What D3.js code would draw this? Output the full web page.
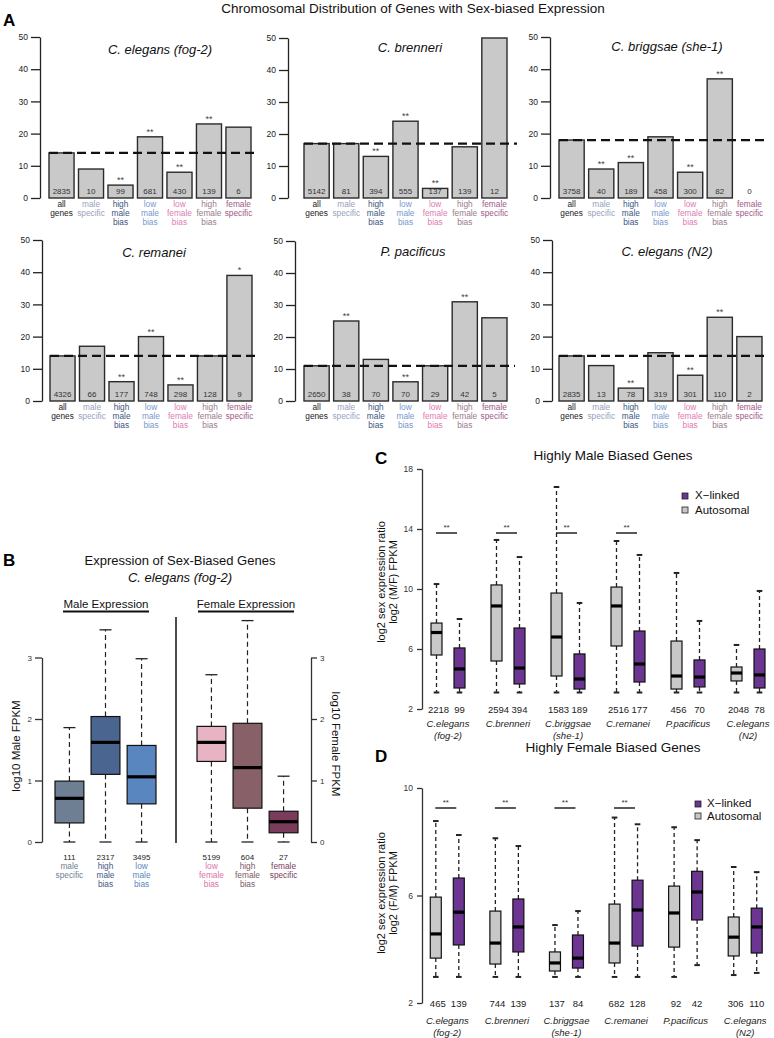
<!DOCTYPE html>
<html><head><meta charset="utf-8">
<script src="https://cdn.jsdelivr.net/npm/d3@7"></script>
<style>
body{margin:0;background:#fff;}
svg{display:block;font-family:"Liberation Sans",Arial,Helvetica,sans-serif;}
</style>
</head><body>
<svg id="chart" width="774" height="1038"></svg>
<script>
// ---------------- DATA ----------------
// Panel A
const categories = ["all genes","male specific","high male bias","low male bias","low female bias","high female bias","female specific"];
const categoryLines = [["all","genes"],["male","specific"],["high","male","bias"],["low","male","bias"],["low","female","bias"],["high","female","bias"],["female","specific"]];
const categoryColors = ["#222222","#98a2bd","#3d5582","#7898cf","#e27ab4","#9a7b8b","#a0588a"];
const speciesA = ["C. elegans (fog-2)","C. brenneri","C. briggsae (she-1)","C. remanei","P. pacificus","C. elegans (N2)"];
const pctXlinked = [
  [14, 9, 4, 19, 8, 23, 22],
  [17, 17, 13, 24, 3, 16, 50],
  [18, 9, 11, 19, 8, 37, 0],
  [14, 17, 6, 20, 5, 14, 39],
  [11, 25, 13, 6, 11, 31, 26],
  [14, 11, 4, 15, 8, 26, 20]
];
const countsA = [
  [2835, 10, 99, 681, 430, 139, 6],
  [5142, 81, 394, 555, 137, 139, 12],
  [3758, 40, 189, 458, 300, 82, 0],
  [4326, 66, 177, 748, 298, 128, 9],
  [2650, 38, 70, 70, 29, 42, 5],
  [2835, 13, 78, 319, 301, 110, 2]
];
const sigA = [
  ["", "", "**", "**", "**", "**", ""],
  ["", "", "**", "**", "**", "", ""],
  ["", "**", "**", "", "**", "**", ""],
  ["", "", "**", "**", "**", "", "*"],
  ["", "**", "", "**", "", "**", ""],
  ["", "", "**", "", "**", "**", ""]
];
const yTicksA = [0, 10, 20, 30, 40, 50];

// Panel B
const bCategories = ["male specific","high male bias","low male bias","low female bias","high female bias","female specific"];
const bLines = [["male","specific"],["high","male","bias"],["low","male","bias"],["low","female","bias"],["high","female","bias"],["female","specific"]];
const bCounts = [111, 2317, 3495, 5199, 604, 27];
const bMin = [0, 0, 0, 0, 0, 0];
const bQ1  = [0.31, 1.10, 0.62, 1.31, 0.55, 0.15];
const bMed = [0.71, 1.62, 1.06, 1.62, 1.21, 0.33];
const bQ3  = [0.99, 2.04, 1.57, 1.88, 1.93, 0.50];
const bMax = [1.86, 3.45, 2.98, 2.72, 3.60, 1.07];
const bFill = ["#6f7f93", "#4a6690", "#5a86c0", "#e8b4c4", "#876068", "#7b3c5c"];
const bLabelColor = ["#6f7f93", "#3f5a88", "#5a86c0", "#e070a8", "#7b5a62", "#7b3c5c"];
const yTicksB = [0, 1, 2, 3];

// Panels C & D
const speciesCD = ["C.elegans (fog-2)","C.brenneri","C.briggsae (she-1)","C.remanei","P.pacificus","C.elegans (N2)"];
const speciesLines = [["C.elegans","(fog-2)"],["C.brenneri"],["C.briggsae","(she-1)"],["C.remanei"],["P.pacificus"],["C.elegans","(N2)"]];
const groupsCD = ["Autosomal","X-linked"];

const cAutoCount = [2218, 2594, 1583, 2516, 456, 2048];
const cXCount    = [99, 394, 189, 177, 70, 78];
const cAutoMin = [3.1, 3.1, 3.1, 3.1, 3.1, 3.1];
const cAutoQ1  = [5.6, 5.2, 4.2, 6.2, 3.33, 3.87];
const cAutoMed = [7.1, 8.87, 6.8, 8.87, 4.2, 4.4];
const cAutoQ3  = [7.73, 10.27, 9.73, 10.13, 6.53, 4.8];
const cAutoMax = [10.33, 13.27, 16.8, 13.2, 11.07, 6.27];
const cXMin = [3.1, 3.1, 3.1, 3.1, 3.1, 3.1];
const cXQ1  = [3.4, 3.67, 3.33, 3.8, 3.47, 3.4];
const cXMed = [4.67, 4.73, 4.0, 5.0, 4.13, 4.27];
const cXQ3  = [6.07, 7.4, 5.67, 7.2, 5.27, 6.0];
const cXMax = [8.0, 12.13, 9.07, 12.27, 7.87, 9.87];
const cSig = ["**", "**", "**", "**", "", ""];
const yTicksC = [2, 6, 10, 14, 18];

const dAutoCount = [465, 744, 137, 682, 92, 306];
const dXCount    = [139, 139, 84, 128, 42, 110];
const dAutoMin = [2.97, 2.97, 2.97, 2.97, 2.97, 3.04];
const dAutoQ1  = [3.67, 3.45, 3.19, 3.49, 4.08, 3.75];
const dAutoMed = [4.57, 4.23, 3.49, 4.23, 5.35, 4.45];
const dAutoQ3  = [5.94, 5.42, 3.9, 5.68, 6.35, 5.2];
const dAutoMax = [8.77, 8.13, 4.9, 8.9, 8.54, 7.06];
const dXMin = [2.97, 2.97, 2.97, 2.97, 3.41, 3.12];
const dXQ1  = [4.16, 3.9, 3.3, 4.12, 5.09, 3.86];
const dXMed = [5.38, 4.83, 3.67, 5.46, 6.13, 4.83];
const dXQ3  = [6.65, 5.87, 4.53, 6.57, 6.9, 5.53];
const dXMax = [8.25, 7.84, 5.42, 8.65, 8.06, 6.87];
const dSig = ["**", "**", "**", "**", "", ""];
const yTicksD = [2, 6, 10];

const autoColor = "#c8c8c8";
const xColor = "#6b3591";

// ---------------- DRAW ----------------
const svg = d3.select("#chart");

function txt(g, x, y, s, size, opts = {}) {
  const t = g.append("text").attr("x", x).attr("y", y).attr("font-size", size).text(s);
  if (opts.anchor) t.attr("text-anchor", opts.anchor);
  if (opts.fill) t.attr("fill", opts.fill);
  if (opts.italic) t.attr("font-style", "italic");
  if (opts.bold) t.attr("font-weight", "bold");
  return t;
}

txt(svg, 413, 13, "Chromosomal Distribution of Genes with Sex-biased Expression", 13.5, {anchor: "middle", fill: "#111"});
txt(svg, 3, 26, "A", 17, {bold: true});
txt(svg, 3, 566, "B", 17, {bold: true});
txt(svg, 375, 464, "C", 17, {bold: true});
txt(svg, 375, 762, "D", 17, {bold: true});

// ---- Panel A ----
const layoutA = [
  {ax: 40,  x0: 49,  x1: 251, dashEnd: 258, yTop: 37,  y0: 198, tx: 160, ty: 54},
  {ax: 288, x0: 304, x1: 507, dashEnd: 517, yTop: 38,  y0: 198, tx: 410, ty: 52},
  {ax: 550, x0: 559, x1: 762, dashEnd: 768, yTop: 37,  y0: 198, tx: 667, ty: 51},
  {ax: 42,  x0: 50,  x1: 252, dashEnd: 258, yTop: 240, y0: 401, tx: 154, ty: 257},
  {ax: 295, x0: 304, x1: 507, dashEnd: 515, yTop: 241, y0: 401, tx: 413, ty: 256},
  {ax: 552, x0: 559, x1: 762, dashEnd: 768, yTop: 240, y0: 401, tx: 667, ty: 256}
];

speciesA.forEach((sp, p) => {
  const L = layoutA[p];
  const g = svg.append("g");
  const vals = pctXlinked[p];
  const x = d3.scaleBand().domain(categories).range([L.x0, L.x1]).paddingInner(0.15).paddingOuter(0);
  const y = d3.scaleLinear().domain([0, 50]).range([L.y0, L.yTop]);

  const ax = g.append("g").attr("transform", `translate(${L.ax},0)`)
    .call(d3.axisLeft(y).tickValues(yTicksA).tickSize(9).tickSizeOuter(0).tickPadding(3));
  ax.selectAll("path,line").attr("stroke", "#222").attr("stroke-width", 1.3);
  ax.selectAll("text").attr("font-size", 8.5).attr("fill", "#222").attr("font-family", "Liberation Sans, Arial, sans-serif");

  g.selectAll("rect.bar").data(vals).join("rect").attr("class", "bar")
    .attr("x", (d, i) => x(categories[i]))
    .attr("y", d => y(d))
    .attr("width", x.bandwidth())
    .attr("height", d => y(0) - y(d))
    .attr("fill", "#c9c9c9").attr("stroke", "#2b2b2b").attr("stroke-width", 1.4);

  // dashed reference line at "all genes"
  g.append("line").attr("x1", L.x0).attr("x2", L.dashEnd)
    .attr("y1", y(vals[0])).attr("y2", y(vals[0]))
    .attr("stroke", "#111").attr("stroke-width", 2.2).attr("stroke-dasharray", "9,5");

  g.selectAll("text.cnt").data(countsA[p]).join("text").attr("class", "cnt")
    .attr("x", (d, i) => x(categories[i]) + x.bandwidth() / 2)
    .attr("y", L.y0 - 4).attr("text-anchor", "middle").attr("font-size", 8).attr("fill", "#333")
    .text(d => d);

  g.selectAll("text.sig").data(sigA[p]).join("text").attr("class", "sig")
    .attr("x", (d, i) => x(categories[i]) + x.bandwidth() / 2)
    .attr("y", (d, i) => y(vals[i]) - 2).attr("text-anchor", "middle").attr("font-size", 9).attr("fill", "#444")
    .text(d => d);

  categories.forEach((c, i) => {
    categoryLines[i].forEach((ln, k) => {
      txt(g, x(c) + x.bandwidth() / 2, L.y0 + 9 + k * 9, ln, 8.3, {anchor: "middle", fill: categoryColors[i]});
    });
  });

  txt(g, L.tx, L.ty, sp, 13, {anchor: "middle", italic: true, fill: "#111"});
});

// ---- Panel B ----
{
  const g = svg.append("g");
  txt(g, 180, 565, "Expression of Sex-Biased Genes", 13, {anchor: "middle", fill: "#111"});
  txt(g, 180, 582, "C. elegans (fog-2)", 13, {anchor: "middle", italic: true, fill: "#111"});
  txt(g, 106, 608, "Male Expression", 11.5, {anchor: "middle", fill: "#111"});
  g.append("line").attr("x1", 63).attr("x2", 149).attr("y1", 611.5).attr("y2", 611.5).attr("stroke", "#111").attr("stroke-width", 2);
  txt(g, 246, 608, "Female Expression", 11.5, {anchor: "middle", fill: "#111"});
  g.append("line").attr("x1", 198).attr("x2", 294).attr("y1", 611.5).attr("y2", 611.5).attr("stroke", "#111").attr("stroke-width", 2);
  g.append("line").attr("x1", 176).attr("x2", 176).attr("y1", 617).attr("y2", 843).attr("stroke", "#111").attr("stroke-width", 1.5);

  const y = d3.scaleLinear().domain([0, 3]).range([842, 657.5]);
  const fmt = d3.format("d");
  const axL = g.append("g").attr("transform", "translate(42,0)")
    .call(d3.axisLeft(y).tickValues(yTicksB).tickFormat(fmt).tickSize(7).tickSizeOuter(0).tickPadding(3));
  const axR = g.append("g").attr("transform", "translate(311,0)")
    .call(d3.axisRight(y).tickValues(yTicksB).tickFormat(fmt).tickSize(6).tickSizeOuter(0).tickPadding(3));
  [axL, axR].forEach(a => {
    a.selectAll("path,line").attr("stroke", "#333").attr("stroke-width", 1.3);
    a.selectAll("text").attr("font-size", 8).attr("fill", "#333").attr("font-family", "Liberation Sans, Arial, sans-serif");
  });
  g.append("text").attr("transform", "translate(20,746) rotate(-90)").attr("text-anchor", "middle")
    .attr("font-size", 11.5).attr("fill", "#111").text("log10 Male FPKM");
  g.append("text").attr("transform", "translate(332,744) rotate(90)").attr("text-anchor", "middle")
    .attr("font-size", 11.5).attr("fill", "#111").text("log10 Female FPKM");

  const xm = d3.scaleBand().domain(bCategories.slice(0, 3)).range([55, 156]).paddingInner(0.2).paddingOuter(0);
  const xf = d3.scaleBand().domain(bCategories.slice(3)).range([197, 298]).paddingInner(0.2).paddingOuter(0);
  bCategories.forEach((c, i) => {
    const xs = i < 3 ? xm : xf;
    const x0 = xs(c), w = xs.bandwidth(), cx = x0 + w / 2;
    const wg = g.append("g");
    wg.append("line").attr("x1", cx).attr("x2", cx).attr("y1", y(bQ3[i])).attr("y2", y(bMax[i]))
      .attr("stroke", "#222").attr("stroke-width", 1.2).attr("stroke-dasharray", "5,3.5");
    wg.append("line").attr("x1", cx).attr("x2", cx).attr("y1", y(bQ1[i])).attr("y2", y(bMin[i]))
      .attr("stroke", "#222").attr("stroke-width", 1.2).attr("stroke-dasharray", "5,3.5");
    [bMax[i], bMin[i]].forEach(v => wg.append("line").attr("x1", cx - 6).attr("x2", cx + 6)
      .attr("y1", y(v)).attr("y2", y(v)).attr("stroke", "#222").attr("stroke-width", 1.3));
    wg.append("rect").attr("x", x0).attr("width", w).attr("y", y(bQ3[i])).attr("height", y(bQ1[i]) - y(bQ3[i]))
      .attr("fill", bFill[i]).attr("stroke", "#111").attr("stroke-width", 1.2);
    wg.append("line").attr("x1", x0).attr("x2", x0 + w).attr("y1", y(bMed[i])).attr("y2", y(bMed[i]))
      .attr("stroke", "#000").attr("stroke-width", 3.2);
    txt(wg, cx, 860, bCounts[i], 8, {anchor: "middle", fill: "#222"});
    bLines[i].forEach((ln, k) => txt(wg, cx, 869 + k * 9, ln, 8.3, {anchor: "middle", fill: bLabelColor[i]}));
  });
}

// ---- Panels C & D ----
function drawCD(cfg) {
  const g = svg.append("g");
  const y = d3.scaleLinear().domain(cfg.domain).range(cfg.range);
  const xs = d3.scaleBand().domain(speciesCD).range(cfg.xRange);
  const xg = d3.scaleBand().domain(groupsCD).range([-23, 23]);
  const bw = 11;

  txt(g, 613, cfg.titleY, cfg.title, 13.5, {anchor: "middle", fill: "#111"});
  const ax = g.append("g").attr("transform", "translate(422,0)")
    .call(d3.axisLeft(y).tickValues(cfg.ticks).tickSize(5).tickSizeOuter(0).tickPadding(4));
  ax.selectAll("path,line").attr("stroke", "#333").attr("stroke-width", 1.3);
  ax.selectAll("text").attr("font-size", 8.5).attr("fill", "#333").attr("font-family", "Liberation Sans, Arial, sans-serif");

  g.append("text").attr("transform", `translate(385,${cfg.labelY}) rotate(-90)`).attr("text-anchor", "middle")
    .attr("font-size", 11).attr("fill", "#111").text("log2 sex expression ratio");
  g.append("text").attr("transform", `translate(397,${cfg.labelY}) rotate(-90)`).attr("text-anchor", "middle")
    .attr("font-size", 11).attr("fill", "#111").text(cfg.ylab2);

  speciesCD.forEach((sp, i) => {
    const center = xs(sp) + xs.bandwidth() / 2;
    groupsCD.forEach(grp => {
      const st = grp === "Autosomal" ? cfg.auto : cfg.xl;
      const cx = center + xg(grp) + xg.bandwidth() / 2;
      const wg = g.append("g");
      wg.append("line").attr("x1", cx).attr("x2", cx).attr("y1", y(st.q3[i])).attr("y2", y(st.max[i]))
        .attr("stroke", "#222").attr("stroke-width", 1.3).attr("stroke-dasharray", "4,3");
      wg.append("line").attr("x1", cx).attr("x2", cx).attr("y1", y(st.q1[i])).attr("y2", y(st.min[i]))
        .attr("stroke", "#222").attr("stroke-width", 1.3).attr("stroke-dasharray", "4,3");
      [st.max[i], st.min[i]].forEach(v => wg.append("line").attr("x1", cx - 2.8).attr("x2", cx + 2.8)
        .attr("y1", y(v)).attr("y2", y(v)).attr("stroke", "#222").attr("stroke-width", 2));
      wg.append("rect").attr("x", cx - bw / 2).attr("width", bw).attr("y", y(st.q3[i]))
        .attr("height", y(st.q1[i]) - y(st.q3[i]))
        .attr("fill", grp === "Autosomal" ? autoColor : xColor).attr("stroke", "#111").attr("stroke-width", 1.2);
      wg.append("line").attr("x1", cx - bw / 2).attr("x2", cx + bw / 2).attr("y1", y(st.med[i])).attr("y2", y(st.med[i]))
        .attr("stroke", "#000").attr("stroke-width", 3.2);
      txt(wg, cx + (grp === "Autosomal" ? 2 : 0), cfg.countY, st.count[i], 9.5, {anchor: "middle", fill: "#222"});
    });
    speciesLines[i].forEach((ln, k) => txt(g, center, cfg.spY + k * 12, ln, 9.5, {anchor: "middle", italic: true, fill: "#222"}));
    if (cfg.sig[i]) {
      g.append("line").attr("x1", center - 12).attr("x2", center + 9).attr("y1", cfg.sigY).attr("y2", cfg.sigY)
        .attr("stroke", "#222").attr("stroke-width", 1.5);
      txt(g, center - 1.5, cfg.sigY - 3, cfg.sig[i], 8, {anchor: "middle", fill: "#333"});
    }
  });

  // legend
  const L = cfg.legend;
  g.append("rect").attr("x", L.x).attr("y", L.y1 - 6).attr("width", 6).attr("height", 6).attr("fill", xColor).attr("stroke", "#222").attr("stroke-width", 0.8);
  txt(g, L.tx, L.y1, "X\u2212linked", 11.5, {fill: "#111"});
  g.append("rect").attr("x", L.x).attr("y", L.y2 - 7).attr("width", 6).attr("height", 6).attr("fill", autoColor).attr("stroke", "#222").attr("stroke-width", 0.8);
  txt(g, L.tx, L.y2, "Autosomal", 11.5, {fill: "#111"});
}

drawCD({
  title: "Highly Male Biased Genes", titleY: 460,
  domain: [2, 18], range: [709, 469], ticks: yTicksC, xRange: [418, 778],
  labelY: 582, ylab2: "log2 (M/F) FPKM",
  auto: {min: cAutoMin, q1: cAutoQ1, med: cAutoMed, q3: cAutoQ3, max: cAutoMax, count: cAutoCount},
  xl: {min: cXMin, q1: cXQ1, med: cXMed, q3: cXQ3, max: cXMax, count: cXCount},
  countY: 713, spY: 727, sig: cSig, sigY: 533,
  legend: {x: 682, tx: 695, y1: 499, y2: 514}
});

drawCD({
  title: "Highly Female Biased Genes", titleY: 752,
  domain: [2, 10], range: [1003, 788], ticks: yTicksD, xRange: [417.5, 775],
  labelY: 893, ylab2: "log2 (F/M) FPKM",
  auto: {min: dAutoMin, q1: dAutoQ1, med: dAutoMed, q3: dAutoQ3, max: dAutoMax, count: dAutoCount},
  xl: {min: dXMin, q1: dXQ1, med: dXMed, q3: dXQ3, max: dXMax, count: dXCount},
  countY: 1007, spY: 1024, sig: dSig, sigY: 808,
  legend: {x: 695, tx: 707, y1: 807, y2: 820}
});
</script>
</body></html>
